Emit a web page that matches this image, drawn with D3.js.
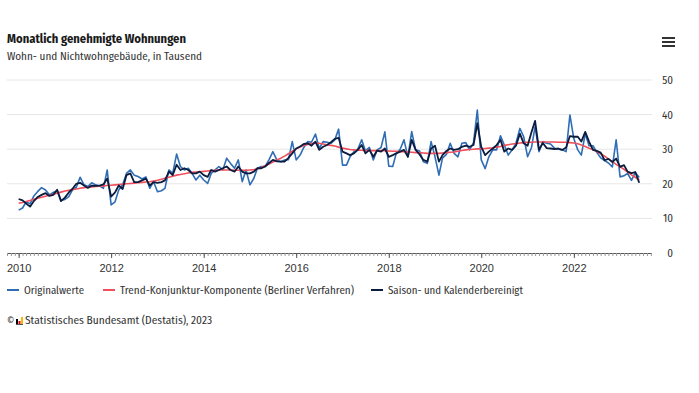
<!DOCTYPE html>
<html lang="de">
<head>
<meta charset="utf-8">
<script src="https://cdn.jsdelivr.net/npm/d3@7"></script>
<style>
  body { margin: 0; background: #fff; }
  svg { display: block; font-family: "Fira Sans Condensed", "Roboto Condensed", "Liberation Sans Narrow", "DejaVu Sans Condensed", Roboto, sans-serif; }
</style>
</head>
<body>
<div id="chart"></div>
<script>
// monthly values from Jan 2010, in thousands
const startMonth = new Date(2010, 0, 1)

const originalwerte = [
  12.4, 13.0, 14.8, 14.2, 16.5, 17.8, 18.9, 18.2, 16.8, 17.5, 18.0, 15.2,
  15.5, 16.3, 18.2, 19.0, 21.9, 19.7, 19.2, 20.3, 19.7, 19.4, 18.7, 24.0,
  13.9, 14.8, 18.2, 19.7, 23.0, 24.0, 22.5, 22.1, 21.4, 22.0, 18.7, 20.6,
  17.7, 18.0, 18.7, 24.0, 23.0, 28.6, 25.0, 24.0, 24.5, 23.0, 21.1, 22.5,
  21.1, 20.1, 23.0, 24.0, 25.0, 24.0, 27.4, 25.9, 24.5, 26.9, 20.6, 24.0,
  19.7, 21.6, 24.5, 25.0, 25.0, 27.0, 29.3, 26.9, 26.4, 26.9, 27.0, 32.2,
  26.9, 28.3, 30.5, 32.2, 32.0, 34.4, 30.2, 32.2, 32.0, 31.7, 32.7, 35.8,
  25.4, 25.4, 27.8, 29.3, 30.0, 32.7, 29.5, 30.5, 26.9, 29.8, 30.5, 35.0,
  25.1, 25.0, 28.8, 30.0, 32.7, 27.8, 35.1, 29.8, 29.5, 26.4, 25.9, 32.2,
  27.8, 22.5, 27.4, 28.5, 31.7, 28.8, 27.8, 31.7, 31.9, 29.8, 31.9, 41.3,
  26.9, 24.4, 27.8, 29.8, 29.8, 33.9, 31.2, 28.3, 29.8, 31.7, 36.0, 33.6,
  27.8, 30.5, 36.5, 29.3, 32.2, 31.7, 31.5, 30.3, 30.0, 29.8, 29.3, 39.9,
  33.0, 29.8, 28.3, 34.5, 31.0, 31.0, 29.1, 27.5, 26.7, 26.0, 24.9, 32.7,
  22.0, 22.3, 23.0, 21.0, 23.3, 21.8
]

const trend = [
  14.4, 14.6, 14.9, 15.2, 15.5, 15.8, 16.1, 16.4, 16.7, 17.0, 17.3, 17.6,
  17.9, 18.1, 18.3, 18.5, 18.7, 18.9, 19.0, 19.1, 19.2, 19.3, 19.4, 19.5,
  19.6, 19.7, 19.8, 19.9, 20.0, 20.1, 20.2, 20.3, 20.4, 20.5, 20.6, 20.8,
  21.0, 21.3, 21.6, 21.9, 22.2, 22.5, 22.7, 22.9, 23.1, 23.3, 23.4, 23.5,
  23.6, 23.7, 23.8, 23.9, 24.0, 24.0, 24.0, 24.0, 23.9, 23.9, 23.9, 23.9,
  24.0, 24.1, 24.3, 24.7, 25.2, 25.7, 26.3, 26.9, 27.4, 28.0, 28.7, 29.4,
  30.1, 30.6, 31.1, 31.4, 31.6, 31.7, 31.7, 31.5, 31.3, 31.1, 30.9, 30.6,
  30.3, 30.1, 29.9, 29.8, 29.7, 29.7, 29.6, 29.6, 29.6, 29.6, 29.6, 29.6,
  29.5, 29.4, 29.4, 29.3, 29.3, 29.2, 29.1, 29.0, 29.0, 28.9, 28.8, 28.8,
  28.8, 28.8, 28.9, 29.0, 29.1, 29.2, 29.4, 29.6, 29.8, 29.9, 30.0, 30.1,
  30.1, 30.2, 30.3, 30.4, 30.6, 30.8, 31.1, 31.3, 31.5, 31.6, 31.8, 31.9,
  32.0, 32.0, 32.1, 32.1, 32.1, 32.1, 32.1, 32.1, 32.0, 32.0, 32.0, 31.9,
  31.8, 31.6, 31.2, 30.8, 30.3, 29.9, 29.3, 28.7, 28.0, 27.2, 26.4, 25.6,
  24.9, 24.2, 23.4, 22.6, 21.9, 21.1
]

const saisonbereinigt = [
  15.6, 15.2, 14.3, 13.4, 15.0, 16.2, 16.8, 17.3, 16.5, 16.8, 18.3, 15.0,
  16.0, 17.5, 18.5, 20.0, 20.3, 19.5, 18.8, 19.5, 19.4, 19.5, 19.8, 21.5,
  16.3, 17.5, 19.5, 18.5, 22.5, 23.0, 20.5, 20.5, 21.0, 21.5, 19.5, 20.5,
  20.3, 20.5, 21.0, 23.5, 22.5, 25.5, 24.0, 24.5, 24.0, 23.0, 23.0, 23.5,
  22.5, 22.0, 24.0, 23.5, 24.0, 24.5, 25.0, 24.0, 23.5, 25.0, 23.5, 23.0,
  23.0, 23.5, 24.5, 24.5, 25.0, 26.0, 26.9, 26.5, 26.4, 26.4, 27.5, 28.8,
  30.2, 30.8, 31.5, 31.7, 31.0, 32.2, 29.8, 30.7, 31.2, 32.0, 33.0, 33.3,
  29.3, 28.8, 28.3, 28.8, 29.8, 31.2, 28.8, 29.8, 27.8, 29.6, 29.3, 30.2,
  27.8, 28.3, 28.8, 29.3, 29.8, 27.8, 32.7, 29.8, 28.5, 26.9, 26.4, 30.2,
  31.0, 26.4, 28.3, 29.5, 30.2, 29.8, 30.0, 30.7, 31.0, 30.7, 31.2, 37.5,
  30.7, 28.3, 29.3, 30.2, 31.2, 32.7, 29.3, 30.2, 29.8, 31.0, 34.5, 31.7,
  31.0, 35.0, 38.2, 29.8, 31.8, 30.3, 30.2, 30.0, 30.2, 29.8, 30.5, 33.8,
  33.6, 33.6, 32.2, 35.0, 32.2, 29.8, 29.5, 29.0, 26.8, 27.2, 26.3, 27.3,
  24.9, 25.4, 23.5, 23.1, 23.4, 20.3
]

const yTicks = [0, 10, 20, 30, 40, 50]
const yearLabels = [2010, 2012, 2014, 2016, 2018, 2020, 2022]
const seriesNames = ['Originalwerte', 'Trend-Konjunktur-Komponente (Berliner Verfahren)', 'Saison- und Kalenderbereinigt']

const colors = { orig: '#2f6db5', trend: '#f0505c', sa: '#0b1c3f', grid: '#e6e6e6', text: '#333333' }

const dms = {
    width: 699,
    height: 393,
    left: 7,
    right: 652,
    top: 80,
    bottom: 253
}

const svg = d3.select('#chart').append('svg')
    .attr('width', dms.width)
    .attr('height', dms.height)

const months = originalwerte.map((d, i) => d3.timeMonth.offset(startMonth, i))

const xScale = d3.scaleTime()
    .domain([new Date(2009, 9, 1), new Date(2023, 8, 10)])
    .range([dms.left, dms.right])

const yScale = d3.scaleLinear()
    .domain([0, 50])
    .range([dms.bottom, dms.top])

// title
svg.append('text')
    .attr('x', 7).attr('y', 43)
    .attr('font-size', 13).attr('font-weight', 'bold')
    .attr('fill', '#1a1a1a')
    .attr('textLength', 179).attr('lengthAdjust', 'spacingAndGlyphs')
    .text('Monatlich genehmigte Wohnungen')

svg.append('text')
    .attr('x', 7).attr('y', 60)
    .attr('font-size', 11)
    .attr('fill', colors.text)
    .attr('textLength', 195).attr('lengthAdjust', 'spacingAndGlyphs')
    .text('Wohn- und Nichtwohngebäude, in Tausend')

// menu icon
svg.append('g')
    .selectAll('rect')
    .data([0, 1, 2])
    .join('rect')
    .attr('x', 662).attr('y', d => 37 + d * 4)
    .attr('width', 13).attr('height', 2)
    .attr('fill', '#333')

// grid
svg.append('g')
    .selectAll('line')
    .data(yTicks.filter(d => d > 0))
    .join('line')
    .attr('x1', dms.left).attr('x2', dms.right)
    .attr('y1', d => yScale(d)).attr('y2', d => yScale(d))
    .attr('stroke', colors.grid)

// y labels on the right
svg.append('g')
    .selectAll('text')
    .data(yTicks)
    .join('text')
    .attr('x', 673)
    .attr('y', d => yScale(d) + 4)
    .attr('text-anchor', 'end')
    .attr('font-size', 11)
    .attr('fill', colors.text)
    .text(d => d)

// x axis: monthly ticks
const xAxis = svg.append('g')
    .attr('transform', `translate(0,${dms.bottom})`)

xAxis.call(d3.axisBottom(xScale)
        .ticks(d3.timeMonth.every(1))
        .tickSize(3)
        .tickFormat(''))

xAxis.select('.domain')
    .attr('d', `M${dms.left},0.5H${dms.right}`)
    .attr('stroke', '#555')
xAxis.selectAll('.tick line').attr('stroke', '#999')

const yearAxis = svg.append('g')
    .attr('transform', `translate(0,${dms.bottom})`)
    .call(d3.axisBottom(xScale)
        .tickValues(yearLabels.map(y => new Date(y, 0, 1)))
        .tickSize(5)
        .tickFormat(d3.timeFormat('%Y')))

yearAxis.select('.domain').remove()
yearAxis.selectAll('.tick line').attr('stroke', '#555')
yearAxis.selectAll('.tick text')
    .attr('font-family', null)
    .attr('font-size', 11)
    .attr('fill', colors.text)
    .attr('dy', null)
    .attr('y', 19)

// lines
const line = d3.line()
    .x((d, i) => xScale(months[i]))
    .y(d => yScale(d))

svg.append('path')
    .datum(originalwerte)
    .attr('fill', 'none')
    .attr('stroke', colors.orig)
    .attr('stroke-width', 1.6)
    .attr('stroke-linejoin', 'round')
    .attr('d', line)

svg.append('path')
    .datum(trend)
    .attr('fill', 'none')
    .attr('stroke', colors.trend)
    .attr('stroke-width', 1.6)
    .attr('d', line)

svg.append('path')
    .datum(saisonbereinigt)
    .attr('fill', 'none')
    .attr('stroke', colors.sa)
    .attr('stroke-width', 1.8)
    .attr('stroke-linejoin', 'round')
    .attr('d', line)

// legend
const legendItems = [
    { name: seriesNames[0], color: colors.orig, x: 7, w: 60 },
    { name: seriesNames[1], color: colors.trend, x: 103, w: 234 },
    { name: seriesNames[2], color: colors.sa, x: 371, w: 135 }
]

const legend = svg.append('g')
    .selectAll('g')
    .data(legendItems)
    .join('g')
    .attr('transform', d => `translate(${d.x},290)`)

legend.append('line')
    .attr('x1', 0).attr('x2', 12)
    .attr('stroke', d => d.color)
    .attr('stroke-width', 2)

legend.append('text')
    .attr('x', 17).attr('y', 4)
    .attr('font-size', 11)
    .attr('fill', colors.text)
    .attr('textLength', d => d.w).attr('lengthAdjust', 'spacingAndGlyphs')
    .text(d => d.name)

// footer
const footer = svg.append('g').attr('transform', 'translate(7,324)')
footer.append('text')
    .attr('font-size', 10).attr('fill', colors.text)
    .attr('y', 0)
    .text('©')
const logo = footer.append('g').attr('transform', 'translate(9,-8)')
logo.append('rect').attr('x', 0).attr('y', 3).attr('width', 2).attr('height', 5).attr('fill', '#000')
logo.append('rect').attr('x', 2.5).attr('y', 5).attr('width', 2).attr('height', 3).attr('fill', '#e3001b')
logo.append('rect').attr('x', 5).attr('y', 1).attr('width', 2).attr('height', 7).attr('fill', '#f5b800')
logo.append('rect').attr('x', 0).attr('y', 8).attr('width', 7).attr('height', 1).attr('fill', '#555')
footer.append('text')
    .attr('x', 18)
    .attr('font-size', 11).attr('fill', colors.text)
    .attr('textLength', 187).attr('lengthAdjust', 'spacingAndGlyphs')
    .text('Statistisches Bundesamt (Destatis), 2023')
</script>
</body>
</html>
